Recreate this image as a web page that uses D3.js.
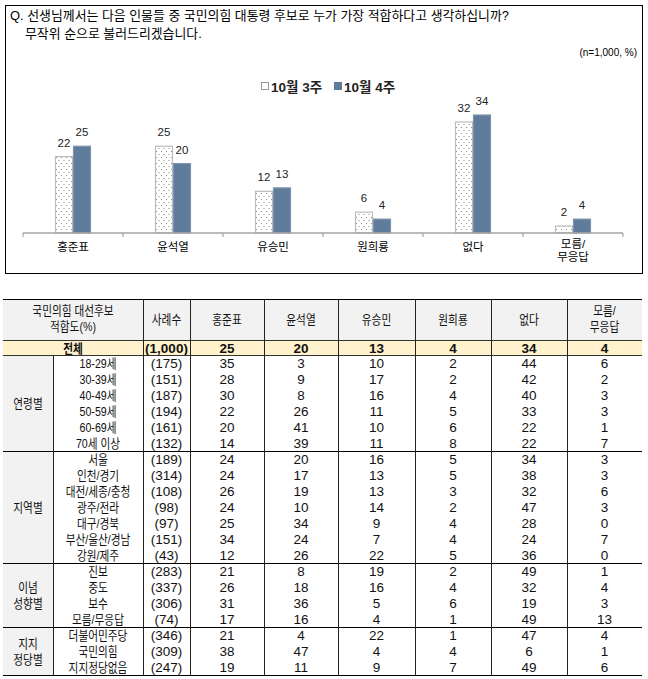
<!DOCTYPE html>
<html><head><meta charset="utf-8">
<script src="https://cdn.jsdelivr.net/npm/d3@7"></script>
<style>
html,body{margin:0;padding:0;background:#fff;}
svg{display:block;font-family:"Liberation Sans","Noto Sans CJK KR",sans-serif;}
</style></head>
<body><svg id="c" width="648" height="679"></svg>
<script>
// ---- chart data ----
const categories = ["홍준표","윤석열","유승민","원희룡","없다","모름/\n무응답"];
const seriesNames = ["10월 3주","10월 4주"];
const week3 = [22,25,12,6,32,2];
const week4 = [25,20,13,4,34,4];

// ---- table data ----
const colHeaders = ["사례수","홍준표","윤석열","유승민","원희룡","없다","모름/\n무응답"];
const totalRow = ["(1,000)","25","20","13","4","34","4"];
const groupNames = ["연령별","지역별","이념\n성향별","지지\n정당별"];
const groupRows = [
  [["18-29세","(175)",35,3,10,2,44,6],["30-39세","(151)",28,9,17,2,42,2],["40-49세","(187)",30,8,16,4,40,3],
   ["50-59세","(194)",22,26,11,5,33,3],["60-69세","(161)",20,41,10,6,22,1],["70세 이상","(132)",14,39,11,8,22,7]],
  [["서울","(189)",24,20,16,5,34,3],["인천/경기","(314)",24,17,13,5,38,3],["대전/세종/충청","(108)",26,19,13,3,32,6],
   ["광주/전라","(98)",24,10,14,2,47,3],["대구/경북","(97)",25,34,9,4,28,0],["부산/울산/경남","(151)",34,24,7,4,24,7],
   ["강원/제주","(43)",12,26,22,5,36,0]],
  [["진보","(283)",21,8,19,2,49,1],["중도","(337)",26,18,16,4,32,4],["보수","(306)",31,36,5,6,19,3],["모름/무응답","(74)",17,16,4,1,49,13]],
  [["더불어민주당","(346)",21,4,22,1,47,4],["국민의힘","(309)",38,47,4,4,6,1],["지지정당없음","(247)",19,11,9,7,49,6]]
];

const svg = d3.select("#c");
const hasHangul = s => /[\uAC00-\uD7A3]/.test(s);

// ================= CHART =================
svg.append("rect").attr("x",5.5).attr("y",5.5).attr("width",637).attr("height",268)
  .attr("fill","#fff").attr("stroke","#000").attr("stroke-width",1);

svg.append("text").attr("x",10).attr("y",19.5).attr("font-size",12.9).attr("fill","#000")
  .text("Q. 선생님께서는 다음 인물들 중 국민의힘 대통령 후보로 누가 가장 적합하다고 생각하십니까?");
svg.append("text").attr("x",25).attr("y",37.5).attr("font-size",12.9).attr("fill","#000")
  .text("무작위 순으로 불러드리겠습니다.");
svg.append("text").attr("x",637).attr("y",56).attr("font-size",10).attr("text-anchor","end").attr("fill","#000")
  .text("(n=1,000,  %)");

const defs = svg.append("defs");
const pat = defs.append("pattern").attr("id","dots").attr("patternUnits","userSpaceOnUse")
  .attr("width",5).attr("height",6);
pat.append("rect").attr("width",5).attr("height",6).attr("fill","#fff");
pat.append("circle").attr("cx",1.5).attr("cy",1.5).attr("r",0.55).attr("fill","#777");
pat.append("circle").attr("cx",4).attr("cy",4.5).attr("r",0.55).attr("fill","#777");

const fills = ["url(#dots)","#5f7c9c"];
const strokes = ["#bdbdbd","#7d93ac"];

// legend
const legX = [261,334];
seriesNames.forEach((s,i)=>{
  svg.append("rect").attr("x",legX[i]+0.5).attr("y",82.5).attr("width",7).attr("height",7)
    .attr("fill", i===0?"#fff":"#5f7c9c").attr("stroke", i===0?"#999":"#5f7c9c");
  svg.append("text").attr("x",legX[i]+10).attr("y",91.5).attr("font-size",13.5).attr("font-weight","bold")
    .attr("fill","#222").text(s);
});

const x0 = d3.scaleBand().domain(categories).range([23,623]);
const x1 = d3.scaleBand().domain(seriesNames).range([0,36]);
const y = d3.scaleLinear().domain([0,34]).range([233,115]);
const vals = [week3,week4];

const g = svg.append("g");
categories.forEach((c,ci)=>{
  const gx = x0(c) + x0.bandwidth()/2 - 18;
  seriesNames.forEach((s,si)=>{
    const v = vals[si][ci];
    g.append("rect").attr("x",gx + x1(s)+0.5).attr("y",y(v)).attr("width",x1.bandwidth()-1)
      .attr("height",y(0)-y(v)).attr("fill",fills[si]).attr("stroke",strokes[si]).attr("stroke-width",1.2);
    g.append("text").attr("x",gx + x1(s) + x1.bandwidth()/2).attr("y",y(v)-10)
      .attr("text-anchor","middle").attr("font-size",11.5).attr("fill","#222").text(v);
  });
});
// axis
const axis = d3.axisBottom(x0).tickSize(0).tickFormat("");
const ag = svg.append("g").attr("transform","translate(0,233)").call(axis);
ag.select(".domain").attr("stroke","#a6a6a6").attr("stroke-width",1.5).attr("d","M23,0H623");
const bounds = categories.map(c=>x0(c)).concat([x0.range()[1]]);
ag.selectAll(".bt").data(bounds).enter().append("line").attr("class","bt")
  .attr("x1",d=>d).attr("x2",d=>d).attr("y1",0).attr("y2",4).attr("stroke","#a6a6a6").attr("stroke-width",1.2);
categories.forEach(c=>{
  const lines = c.split("\n");
  const cx = x0(c)+x0.bandwidth()/2;
  lines.forEach((ln,li)=>{
    svg.append("text").attr("x",cx).attr("y", lines.length===1 ? 251 : 247.5 + li*13.5)
      .attr("text-anchor","middle").attr("font-size",11.5).attr("fill","#000").text(ln);
  });
});

// ================= TABLE =================
const colX = [3,53,143,190,264,338,415,491,567,642]; // group, sub, n, 6 values
const tTop = 299, headH = 41, totalH = 15, rowH = 16;
const bodyTop = tTop + headH + totalH;
const nRows = d3.sum(groupRows, r=>r.length);
const yRow = d3.scaleLinear().domain([0,nRows]).range([bodyTop, bodyTop + nRows*rowH]);
const t = svg.append("g");

function txt(x, yb, s, bold){
  const hg = hasHangul(s);
  const sc = hg ? 0.82 : 1;
  t.append("text").attr("transform",`translate(${x},${yb}) scale(${sc},1)`)
    .attr("text-anchor","middle").attr("font-size",hg?13:13.5)
    .attr("font-weight",bold?"bold":"normal")
    .attr("fill","#111").text(s);
}

// backgrounds
t.append("rect").attr("x",colX[0]).attr("y",tTop).attr("width",colX[9]-colX[0]).attr("height",headH).attr("fill","#f2f2f2");
t.append("rect").attr("x",colX[0]).attr("y",tTop+headH).attr("width",colX[9]-colX[0]).attr("height",totalH).attr("fill","#fff2cc");
t.append("rect").attr("x",colX[0]).attr("y",bodyTop).attr("width",colX[1]-colX[0]).attr("height",nRows*rowH).attr("fill","#f2f2f2");

// header text
const hdr1 = ["국민의힘 대선후보","적합도(%)"];
hdr1.forEach((s,i)=>txt((colX[0]+colX[2])/2, 315 + i*16, s, false));
colHeaders.forEach((h,i)=>{
  const cx = (colX[i+2]+colX[i+3])/2;
  const ls = h.split("\n");
  ls.forEach((s,li)=>txt(cx, ls.length===1 ? 324 : 315 + li*16, s, false));
});
// total
txt((colX[0]+colX[2])/2, tTop+headH+12.5, "전체", true);
totalRow.forEach((v,i)=>txt((colX[i+2]+colX[i+3])/2, tTop+headH+12.5, v, true));

// body
let ri = 0;
const groupBounds = [bodyTop];
groupRows.forEach((rows,gi)=>{
  const gStart = ri;
  rows.forEach(r=>{
    const yb = yRow(ri) + 13;
    r.forEach((v,ci)=>txt((colX[ci+1]+colX[ci+2])/2, yb, String(v), false));
    ri++;
  });
  const gl = groupNames[gi].split("\n");
  const cy = (yRow(gStart)+yRow(ri))/2;
  gl.forEach((s,li)=>txt((colX[0]+colX[1])/2, cy + 5 + (li-(gl.length-1)/2)*16, s, false));
  groupBounds.push(yRow(ri));
});

// lines
const L = (x1_,y1_,x2_,y2_,c,w)=>t.append("line").attr("x1",x1_).attr("y1",y1_).attr("x2",x2_).attr("y2",y2_)
  .attr("stroke",c).attr("stroke-width",w||1).attr("shape-rendering","crispEdges");
L(colX[0],tTop,colX[9],tTop,"#000");
L(colX[0],tTop+headH,colX[9],tTop+headH,"#333");
L(colX[0],bodyTop,colX[9],bodyTop,"#333");
groupBounds.slice(1).forEach(yv=>L(colX[0],yv,colX[9],yv,"#000"));
// vertical lines
[2,3,4,5,6,7,8].forEach(i=>L(colX[i],tTop,colX[i],groupBounds[groupBounds.length-1],"#222"));
L(colX[1],bodyTop,colX[1],groupBounds[groupBounds.length-1],"#222");
</script></body></html>
